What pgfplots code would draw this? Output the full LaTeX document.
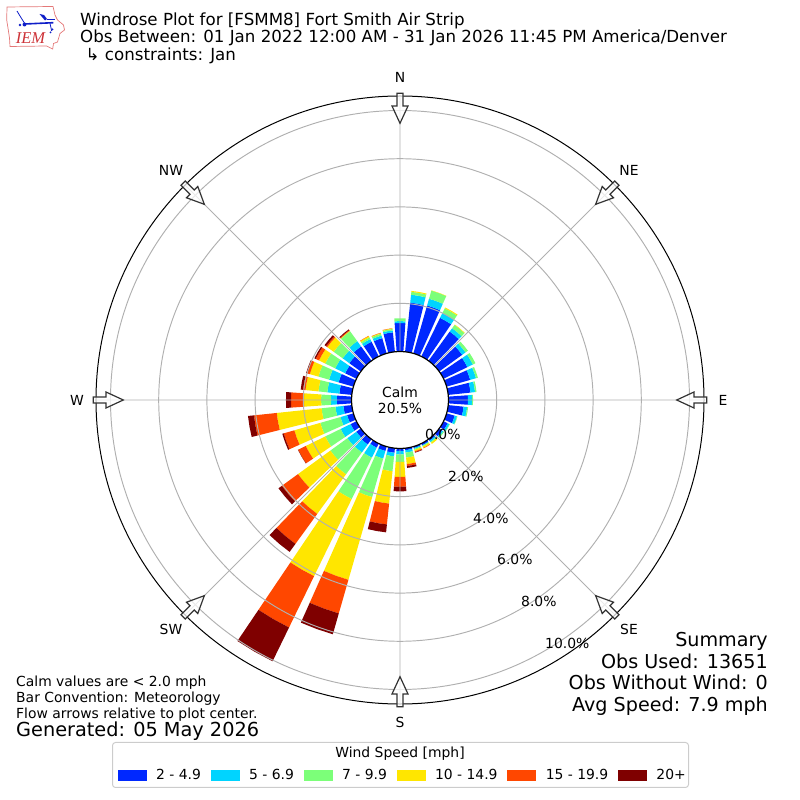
\documentclass[border=0pt]{standalone}
\usepackage{pgfplots}
\pgfplotsset{compat=1.18}
\usepackage{pgfplotstable}
\usepgfplotslibrary{polar}
\usepackage{fontspec}
\setmainfont{DejaVu Sans}
\newfontfamily\iemfont{Liberation Serif}
\definecolor{c1}{RGB}{0,40,255}
\definecolor{c2}{RGB}{0,212,255}
\definecolor{c3}{RGB}{124,255,121}
\definecolor{c4}{RGB}{255,230,0}
\definecolor{c5}{RGB}{255,71,0}
\definecolor{c6}{RGB}{127,0,0}
\definecolor{gridc}{RGB}{176,176,176}
\definecolor{iemred}{RGB}{205,50,55}
\definecolor{iemline}{RGB}{228,120,120}
\definecolor{iemblue}{RGB}{15,30,200}
\pgfplotstableread{
dir s1 s2 s3 s4 s5 s6
0 1.18 0.08 0.12 0 0 0
10 2.05 0.33 0.12 0.04 0 0
20 2.07 0.29 0.35 0.01 0 0
30 1.78 0.23 0.21 0.04 0 0
40 1.50 0.17 0.17 0.02 0 0
50 1.18 0.17 0.12 0 0 0
60 1.10 0.25 0.12 0 0 0
70 1.02 0.25 0.08 0 0 0
80 0.93 0.19 0.06 0 0 0
90 0.81 0.17 0.04 0 0 0
100 0.64 0.15 0.04 0 0 0
110 0.35 0.10 0.02 0 0 0
120 0.19 0.08 0.02 0 0 0
130 0.15 0.06 0.04 0 0 0
140 0.08 0.06 0.04 0.06 0 0
150 0.08 0.02 0.04 0.06 0.02 0
160 0.06 0.04 0.04 0.06 0.04 0.02
170 0.08 0.10 0.21 0.27 0.08 0.08
180 0.10 0.15 0.31 0.62 0.41 0.19
190 0.19 0.15 0.62 1.35 0.87 0.33
200 0.19 0.33 1.66 3.57 1.45 0.90
210 0.19 0.46 1.91 3.56 2.37 1.56
220 0.27 0.41 1.12 2.03 1.54 0.41
230 0.23 0.46 0.87 1.66 0.83 0.17
240 0.27 0.46 0.71 0.90 0.35 0.01
250 0.27 0.29 0.87 1.12 0.46 0.06
260 0.35 0.33 0.58 1.87 0.95 0.25
270 0.61 0.24 0.41 0.71 0.54 0.21
280 0.52 0.50 0.37 0.54 0.10 0.10
290 0.64 0.41 0.46 0.37 0.12 0.04
300 0.52 0.46 0.46 0.29 0.15 0.06
310 0.59 0.34 0.46 0.33 0.06 0.08
320 0.74 0.27 0.51 0.02 0.03 0.04
330 0.68 0.12 0.08 0.06 0.01 0
340 0.66 0.11 0.08 0.03 0.01 0
350 0.81 0.08 0.06 0.02 0.01 0
}\windtable
\def\roff{2.012}
\newcommand\fsz[1]{\fontsize{#1}{#1}\selectfont}
\begin{document}
\begin{tikzpicture}[x=1pt,y=1pt]
\useasboundingbox (0,0) rectangle (800,800);
\begin{polaraxis}[
  at={(400pt,400pt)}, anchor=center,
  width=608pt, height=608pt, scale only axis,
  xmin=0, xmax=360, ymin=0, ymax=12.614,
  clip=false, axis on top,
  x axis line style={black,line width=1pt},
  y axis line style={draw=none},
  xtick={0,45,...,315}, xticklabels=\empty,
  ytick={4.012,6.012,8.012,10.012,12.012}, yticklabels=\empty,
  grid=major, grid style={gridc,line width=0.95pt},
  major tick length=0pt,
  legend columns=6,
  legend style={at={(axis description cs:0.507,-0.1168)},anchor=center,draw=none,fill=none,
    font=\fsz{13.9},inner sep=0pt,
    /tikz/every odd column/.append style={column sep=5pt},
    /tikz/every even column/.append style={column sep=4.8pt},
    nodes={inner xsep=5pt}},
  legend image code/.code={\fill[#1] (0pt,-5pt) rectangle (28pt,5pt);},
]
\addlegendimage{c1}\addlegendentry{2 - 4.9}
\addlegendimage{c2}\addlegendentry{5 - 6.9}
\addlegendimage{c3}\addlegendentry{7 - 9.9}
\addlegendimage{c4}\addlegendentry{10 - 14.9}
\addlegendimage{c5}\addlegendentry{15 - 19.9}
\addlegendimage{c6}\addlegendentry{20+}
\foreach \row in {0,...,35}{
  \pgfplotstablegetelem{\row}{dir}\of\windtable
  \pgfmathsetmacro\ang{450-\pgfplotsretval}
  \pgfmathsetmacro\angL{\ang-4}
  \pgfmathsetmacro\angR{\ang+4}
  \xdef\cum{\roff}
  \foreach \col/\colr in {s1/c1,s2/c2,s3/c3,s4/c4,s5/c5,s6/c6}{
    \pgfplotstablegetelem{\row}{\col}\of\windtable
    \pgfmathsetmacro\rnew{\cum+\pgfplotsretval}
    \ifdim\pgfplotsretval pt>0pt
      \edef\temp{\noexpand\addplot[fill=\colr,draw=none,forget plot,no markers] coordinates {(\angL,\cum) (\ang,\cum) (\angR,\cum) (\angR,\rnew) (\ang,\rnew) (\angL,\rnew)};}
      \temp
    \fi
    \xdef\cum{\rnew}
  }
}
\end{polaraxis}
% centre disc
\draw[black,fill=white,line width=1.2pt] (400,400) circle (48.5);
\node[font=\fsz{13.9},align=center,inner sep=0] at (400,400) {Calm\\[2pt]20.5\%};
% direction arrows
\foreach \a in {0,45,...,315}{
  \draw[shift={(400,400)},rotate=\a,line width=1.2pt,draw=black!80,fill=white,fill opacity=0.75]
    (-3,306.7)--(-3,294)--(-8,294)--(0,276.7)--(8,294)--(3,294)--(3,306.7)--cycle;
}
\foreach \t/\x/\y in {N/400/723,NE/629/630,E/723/400,SE/629/171,S/400/78,SW/171/171,W/77/400,NW/171/630}{
  \node[font=\fsz{13.9},inner sep=0] at (\x,\y) {\t};
}
% radial labels
\foreach \t/\x/\y in {0.0/425/366,2.0/448/324,4.0/473/282,6.0/497/241,8.0/521/199,10.0/545/157}{
  \node[font=\fsz{13.9},inner sep=0,anchor=west] at (\x,\y) {\t\%};
}
% title
\node[font=\fsz{16.67},inner sep=0,anchor=base west] at (80,774) {Windrose Plot for [FSMM8] Fort Smith Air Strip};
\node[font=\fsz{16.65},inner sep=0,anchor=base west] at (80,757) {Obs Between: 01 Jan 2022 12:00 AM - 31 Jan 2026 11:45 PM America/Denver};
\node[font=\fsz{16.67},inner sep=0,anchor=base west] at (85.5,739.7) {↳ constraints: Jan};
% summary
\foreach \t/\y in {Summary/153,Obs Used: 13651/131.5,Obs Without Wind: 0/110,Avg Speed: 7.9 mph/88}{
  \node[font=\fsz{19.15},inner sep=0,anchor=base east] at (768,\y) {\t};
}
% footer
\foreach \t/\y in {Calm values are < 2.0 mph/113.5,Bar Convention: Meteorology/97.5,Flow arrows relative to plot center./81.5}{
  \node[font=\fsz{13.9},inner sep=0,anchor=base west] at (16,\y) {\t};
}
\node[font=\fsz{19.3},inner sep=0,anchor=base west] at (16,63) {Generated: 05 May 2026};
% legend frame
\draw[rounded corners=3pt,draw=black!20,line width=1pt] (112.5,12.5) rectangle (688.5,57.5);
\node[font=\fsz{13.9},inner sep=0,anchor=base] at (400,42) {Wind Speed [mph]};
% logo
\draw[iemline,line width=0.7pt] (7,793)--(53,793.5)--(55,785)--(57.5,780)--(63.5,775)--(64.5,770)--(60,766.5)--(57.5,758)--(53.5,756.5)--(52.7,751)--(46.5,754)--(10,753.5)--(9.5,762)--(8.3,770)--(6.7,780)--cycle;
\draw[iemblue,line width=1.6pt] (25,776)--(53.3,777.3);
\draw[iemblue,line width=0.8pt] (17,789)--(20,784)--(25,776);
\fill[iemblue] (39.5,786)--(44,785)--(47,781)--(45,779.5)--cycle;
\draw[iemblue,line width=0.8pt] (46.7,780.7)--(55,780.7);
\draw[iemblue,line width=0.8pt] (50,776.7)--(51.7,769);
\fill[iemblue] (24.5,775.5) circle (2) (20,775) circle (1.3) (52.5,770.5) circle (1) (50.5,767.5) circle (1);
\node[font=\iemfont\itshape\fsz{16.5},text=iemred,inner sep=0,anchor=base] at (30.5,756) {IEM};
\end{tikzpicture}
\end{document}
